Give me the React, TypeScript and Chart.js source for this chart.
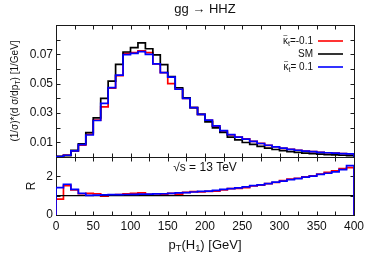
import React, { useEffect, useRef } from "react";
import { Chart, registerables } from "chart.js";

Chart.register(...registerables);

// ---- data ----
const binEdges = [
  0, 10, 20, 30, 40, 50, 60, 70, 80, 90, 100, 110, 120, 130, 140, 150, 160, 170, 180, 190, 200,
  210, 220, 230, 240, 250, 260, 270, 280, 290, 300, 310, 320, 330, 340, 350, 360, 370, 380, 390, 400,
];

// (1/σ)(dσ/dpT), SM
const smValues = [
  0.0004, 0.001, 0.0045, 0.0089, 0.0166, 0.0267, 0.040, 0.0518, 0.0632, 0.0716,
  0.0746, 0.0778, 0.0738, 0.0696, 0.0630, 0.0548, 0.0472, 0.0404, 0.0336, 0.0290,
  0.0240, 0.0199, 0.0168, 0.0136, 0.0117, 0.0099, 0.0086, 0.0072, 0.0061, 0.0051,
  0.0043, 0.0037, 0.0031, 0.0027, 0.0023, 0.0019, 0.0016, 0.0014, 0.0012, 0.0010,
];
// κ̃t = -0.1
const kMinusValues = [
  0.0002, 0.0013, 0.0040, 0.0080, 0.0155, 0.0252, 0.0342, 0.0470, 0.0555, 0.0707,
  0.0712, 0.0723, 0.0712, 0.0635, 0.0575, 0.0500, 0.0462, 0.0400, 0.0336, 0.0290,
  0.0250, 0.0210, 0.0178, 0.0150, 0.0136, 0.0124, 0.0106, 0.0093, 0.0079, 0.0070,
  0.0059, 0.0053, 0.0046, 0.0041, 0.0036, 0.0032, 0.0029, 0.0026, 0.0023, 0.0021,
];
// κ̃t = 0.1
const kPlusValues = [
  0.0003, 0.0012, 0.0042, 0.0085, 0.0150, 0.0249, 0.0365, 0.0473, 0.0558, 0.0698,
  0.0707, 0.0719, 0.0700, 0.0635, 0.0575, 0.0545, 0.0462, 0.0400, 0.0336, 0.0290,
  0.0252, 0.0212, 0.0180, 0.0152, 0.0135, 0.0122, 0.0107, 0.0092, 0.0080, 0.0069,
  0.0060, 0.0052, 0.0046, 0.0040, 0.0036, 0.0032, 0.0029, 0.0026, 0.0023, 0.0021,
];
// ratio R to SM
const ratioMinus = [
  0.82, 1.52, 1.30, 1.10, 1.12, 1.10, 0.98, 1.03, 1.05, 1.09,
  1.12, 1.14, 1.07, 1.10, 1.07, 1.12, 1.08, 1.17, 1.21, 1.20,
  1.22, 1.24, 1.30, 1.36, 1.38, 1.42, 1.50, 1.55, 1.62, 1.68,
  1.78, 1.86, 1.90, 1.97, 2.02, 2.12, 2.20, 2.28, 2.40, 2.45,
];
const ratioPlus = [
  1.42, 1.59, 1.33, 1.12, 1.02, 1.03, 1.04, 1.05, 1.05, 1.06,
  1.07, 1.08, 1.08, 1.09, 1.10, 1.12, 1.14, 1.16, 1.19, 1.22,
  1.24, 1.27, 1.33, 1.36, 1.40, 1.45, 1.52, 1.56, 1.62, 1.70,
  1.75, 1.83, 1.88, 1.96, 2.01, 2.10, 2.16, 2.23, 2.35, 2.55,
];
const smRatio = [1, 1];

const xTickLabels = [0, 50, 100, 150, 200, 250, 300, 350, 400];
const xTickMarks = [25, 50, 75, 100, 125, 150, 175, 200, 225, 250, 275, 300, 325, 350, 375];
const yTopTickMarks = [0.01, 0.02, 0.03, 0.04, 0.05, 0.06, 0.07, 0.08];
const yTopTickLabels = [0.01, 0.03, 0.05, 0.07];
const yRatioTickMarks = [1, 2];
const yRatioTickLabels = [0, 2];

// part kinds: "n" normal, "s" subscript, "t" letter with tilde accent
type Part = [string, "n" | "s" | "t"];

const legendEntries: { parts: Part[]; color: string }[] = [
  { parts: [["κ", "t"], ["t", "s"], ["=-0.1", "n"]], color: "#ff0000" },
  { parts: [["SM", "n"]], color: "#000000" },
  { parts: [["κ", "t"], ["t", "s"], ["= 0.1", "n"]], color: "#0000ff" },
];

const FONT = "'Liberation Sans', Arial, sans-serif";
const TEXT = "#111";

function histPoints(values: number[]) {
  const pts: { x: number; y: number }[] = [{ x: binEdges[0], y: 0 }];
  values.forEach((v, i) => {
    pts.push({ x: binEdges[i], y: v });
    pts.push({ x: binEdges[i + 1], y: v });
  });
  pts.push({ x: binEdges[binEdges.length - 1], y: 0 });
  return pts;
}

function measureParts(ctx: CanvasRenderingContext2D, parts: Part[], size: number) {
  let w = 0;
  for (const [t, kind] of parts) {
    ctx.font = `${kind === "s" ? size * 0.72 : size}px ${FONT}`;
    w += ctx.measureText(t).width;
  }
  return w;
}

function drawParts(
  ctx: CanvasRenderingContext2D,
  parts: Part[],
  size: number,
  x: number,
  y: number,
  align: "left" | "center" | "right"
) {
  const w = measureParts(ctx, parts, size);
  let cx = align === "left" ? x : align === "center" ? x - w / 2 : x - w;
  ctx.textBaseline = "middle";
  for (const [t, kind] of parts) {
    ctx.textAlign = "left";
    ctx.font = `${kind === "s" ? size * 0.72 : size}px ${FONT}`;
    const tw = ctx.measureText(t).width;
    ctx.fillText(t, cx, kind === "s" ? y + size * 0.3 : y);
    if (kind === "t") {
      ctx.font = `${size * 0.8}px ${FONT}`;
      ctx.textAlign = "center";
      ctx.fillText("~", cx + tw / 2, y - size * 0.55);
      ctx.font = `${size}px ${FONT}`;
    }
    cx += tw;
  }
  ctx.textAlign = "left";
}

function drawFrame(chart: any, yTicks: number[]) {
  const ctx = chart.ctx as CanvasRenderingContext2D;
  const xs = chart.scales.x;
  const ys = chart.scales.y;
  const L = Math.round(xs.left) + 0.5;
  const R = Math.round(xs.right) + 0.5;
  const T = Math.round(ys.top) + 0.5;
  const B = Math.round(ys.bottom) + 0.5;
  ctx.save();
  ctx.strokeStyle = "#1a1a1a";
  ctx.lineWidth = 1;
  ctx.strokeRect(L, T, R - L, B - T);
  ctx.beginPath();
  for (const v of xTickMarks) {
    const px = Math.round(xs.getPixelForValue(v)) + 0.5;
    ctx.moveTo(px, B);
    ctx.lineTo(px, B - 4);
    ctx.moveTo(px, T);
    ctx.lineTo(px, T + 4);
  }
  for (const v of yTicks) {
    const py = Math.round(ys.getPixelForValue(v)) + 0.5;
    ctx.moveTo(L, py);
    ctx.lineTo(L + 4, py);
    ctx.moveTo(R, py);
    ctx.lineTo(R - 4, py);
  }
  ctx.stroke();
  ctx.restore();
}

const topPlugin = {
  id: "topPlugin",
  beforeDatasetsDraw(chart: any) {
    drawFrame(chart, yTopTickMarks);
  },
  afterDraw(chart: any) {
    const ctx = chart.ctx as CanvasRenderingContext2D;
    const xs = chart.scales.x;
    const ys = chart.scales.y;
    const cx = (xs.left + xs.right) / 2;
    ctx.save();
    ctx.fillStyle = TEXT;
    ctx.font = `12px ${FONT}`;
    ctx.textAlign = "right";
    ctx.textBaseline = "middle";
    for (const v of yTopTickLabels) {
      ctx.fillText(v.toFixed(2), xs.left - 3, ys.getPixelForValue(v));
    }
    ctx.textAlign = "center";
    ctx.font = `13px ${FONT}`;
    ctx.fillText("gg → HHZ", cx, 9);
    ctx.save();
    ctx.translate(15, (ys.top + ys.bottom) / 2);
    ctx.rotate(-Math.PI / 2);
    drawParts(ctx, [["(1/σ)*(d σ/dp", "n"], ["T", "s"], [") [1/GeV]", "n"]], 10, 0, 0, "center");
    ctx.restore();
    legendEntries.forEach((e, i) => {
      const y = ys.top + 16 + i * 13;
      ctx.fillStyle = TEXT;
      drawParts(ctx, e.parts, 10, xs.right - 41, y, "right");
      ctx.strokeStyle = e.color;
      ctx.lineWidth = 1.6;
      ctx.beginPath();
      ctx.moveTo(xs.right - 36, y);
      ctx.lineTo(xs.right - 11, y);
      ctx.stroke();
    });
    ctx.restore();
  },
};

const ratioPlugin = {
  id: "ratioPlugin",
  beforeDatasetsDraw(chart: any) {
    drawFrame(chart, yRatioTickMarks);
  },
  afterDraw(chart: any) {
    const ctx = chart.ctx as CanvasRenderingContext2D;
    const xs = chart.scales.x;
    const ys = chart.scales.y;
    const cx = (xs.left + xs.right) / 2;
    ctx.save();
    ctx.fillStyle = TEXT;
    ctx.font = `12px ${FONT}`;
    ctx.textAlign = "center";
    ctx.textBaseline = "middle";
    for (const v of xTickLabels) {
      ctx.fillText(String(v), xs.getPixelForValue(v), ys.bottom + 12);
    }
    ctx.textAlign = "right";
    for (const v of yRatioTickLabels) {
      ctx.fillText(String(v), xs.left - 3, ys.getPixelForValue(v));
    }
    ctx.textAlign = "center";
    ctx.fillText("√s = 13 TeV", cx, ys.top + 11);
    drawParts(ctx, [["p", "n"], ["T", "s"], ["(H", "n"], ["1", "s"], [") [GeV]", "n"]], 13, cx, ys.bottom + 30, "center");
    ctx.save();
    ctx.translate(32, (ys.top + ys.bottom) / 2);
    ctx.rotate(-Math.PI / 2);
    ctx.font = `12px ${FONT}`;
    ctx.textAlign = "center";
    ctx.textBaseline = "middle";
    ctx.fillText("R", 0, 0);
    ctx.restore();
    ctx.restore();
  },
};

const lineDs = (label: string, data: any[], color: string, order: number, width = 1.7) => ({
  label,
  data,
  borderColor: color,
  backgroundColor: color,
  borderWidth: width,
  pointRadius: 0,
  tension: 0,
  fill: false,
  order,
  borderJoinStyle: "miter" as const,
});

function makeOptions(yMax: number, padTop: number, padBottom: number) {
  return {
    responsive: false,
    devicePixelRatio: 1,
    animation: false as const,
    events: [] as any[],
    layout: { padding: { left: 56, right: 20, top: padTop, bottom: padBottom } },
    plugins: { legend: { display: false }, tooltip: { enabled: false }, title: { display: false } },
    scales: {
      x: { type: "linear" as const, min: 0, max: 400, display: false },
      y: { type: "linear" as const, min: 0, max: yMax, display: false },
    },
  };
}

export default function App() {
  const topRef = useRef<HTMLCanvasElement | null>(null);
  const ratioRef = useRef<HTMLCanvasElement | null>(null);
  useEffect(() => {
    if (!topRef.current || !ratioRef.current) return;
    const top = new Chart(topRef.current, {
      type: "line",
      data: {
        datasets: [
          lineDs("κt=-0.1", histPoints(kMinusValues), "#ff0000", 2),
          lineDs("SM", histPoints(smValues), "#000000", 1),
          lineDs("κt=0.1", histPoints(kPlusValues), "#0000ff", 0),
        ],
      },
      options: makeOptions(0.09, 25, 105) as any,
      plugins: [topPlugin],
    });
    const ratio = new Chart(ratioRef.current, {
      type: "line",
      data: {
        datasets: [
          lineDs("R κt=-0.1", histPoints(ratioMinus), "#ff0000", 2),
          lineDs(
            "R SM",
            smRatio.map((v, i) => ({ x: i === 0 ? binEdges[0] : binEdges[binEdges.length - 1], y: v })),
            "#000000",
            1,
            1.2
          ),
          lineDs("R κt=0.1", histPoints(ratioPlus), "#0000ff", 0),
        ],
      },
      options: makeOptions(3, 157, 47) as any,
      plugins: [ratioPlugin],
    });
    return () => {
      top.destroy();
      ratio.destroy();
    };
  }, []);
  const canvasStyle: React.CSSProperties = { display: "block", position: "absolute", left: 0, top: 0 };
  return (
    <div style={{ position: "fixed", left: 0, top: 0, width: 374, height: 262, background: "#fff" }}>
      <canvas ref={topRef} width={374} height={262} style={canvasStyle} />
      <canvas ref={ratioRef} width={374} height={262} style={canvasStyle} />
    </div>
  );
}
